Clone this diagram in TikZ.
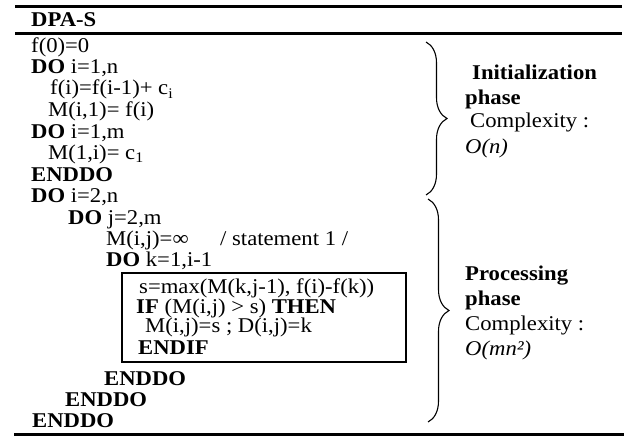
\documentclass[tikz,border=0pt]{standalone}
\usepackage{fontspec}
\setmainfont[FakeStretch=1.08]{Liberation Serif}
\usetikzlibrary{decorations.pathreplacing}

\begin{document}
\begin{tikzpicture}[x=1pt,y=1pt]
	\tikzset{code/.style={anchor=base west,inner sep=0pt,font=\fontsize{21}{21}\selectfont},
		rule/.style={line width=3pt},
		loopbox/.style={line width=1.6pt},
		phasebrace/.style={decorate,decoration={brace,amplitude=21pt},line width=1.1pt}}
	\useasboundingbox (0,0) rectangle (624,-436);
	% rules of the table
	\draw[rule] (15,-6.5) -- (622,-6.5);
	\draw[rule] (15,-34) -- (622,-34);
	\draw[rule] (14,-434.5) -- (624,-434.5);
	\node[code] (title) at (31,-27) {\textbf{DPA-S}};
	% initialization
	\node[code] (init0) at (31,-53) {f(0)=0};
	\node[code] (init1) at (31,-74) {\textbf{DO} i=1,n};
	\node[code] (init2) at (50,-95) {f(i)=f(i-1)+ c\textsubscript{i}};
	\node[code] (init3) at (48,-116) {M(i,1)= f(i)};
	\node[code] (init4) at (31,-138) {\textbf{DO} i=1,m};
	\node[code] (init5) at (48,-159) {M(1,i)= c\textsubscript{1}};
	\node[code] (init6) at (31,-181) {\textbf{ENDDO}};
	% processing
	\node[code] (proc1) at (31,-202) {\textbf{DO} i=2,n};
	\node[code] (proc2) at (68,-224) {\textbf{DO} j=2,m};
	\node[code] (proc3) at (106,-245) {M(i,j)=∞};
	\node[code] (stmt) at (220,-245) {/ statement 1 /};
	\node[code] (proc4) at (106,-266) {\textbf{DO} k=1,i-1};
	\node[code] (inner1) at (139,-293) {s=max(M(k,j-1), f(i)-f(k))};
	\node[code] (inner2) at (136,-313) {\textbf{IF} (M(i,j) > s) \textbf{THEN}};
	\node[code] (inner3) at (145,-332) {M(i,j)=s ; D(i,j)=k};
	\node[code] (inner4) at (138,-354) {\textbf{ENDIF}};
	\draw[loopbox] (122,-273) rectangle (406,-362);
	\node[code] (end1) at (104,-385) {\textbf{ENDDO}};
	\node[code] (end2) at (65,-406) {\textbf{ENDDO}};
	\node[code] (end3) at (32,-427) {\textbf{ENDDO}};
	% braces and phases
	\coordinate (inittop) at (426,-42);
	\coordinate (initbot) at (426,-195);
	\coordinate (proctop) at (428,-199);
	\coordinate (procbot) at (428,-422);
	\draw[phasebrace] (inittop) -- (initbot);
	\draw[phasebrace] (proctop) -- (procbot);
	\node[code] (ph1a) at (472,-80) {\textbf{Initialization}};
	\node[code] (ph1b) at (465,-104) {\textbf{phase}};
	\node[code] (ph1c) at (470,-128) {Complexity :};
	\node[code] (ph1d) at (465,-153) {\textit{O(n)}};
	\node[code] (ph2a) at (465,-280) {\textbf{Processing}};
	\node[code] (ph2b) at (465,-305) {\textbf{phase}};
	\node[code] (ph2c) at (465,-330) {Complexity :};
	\node[code] (ph2d) at (465,-355) {\textit{O(mn²)}};
\end{tikzpicture}
\end{document}
